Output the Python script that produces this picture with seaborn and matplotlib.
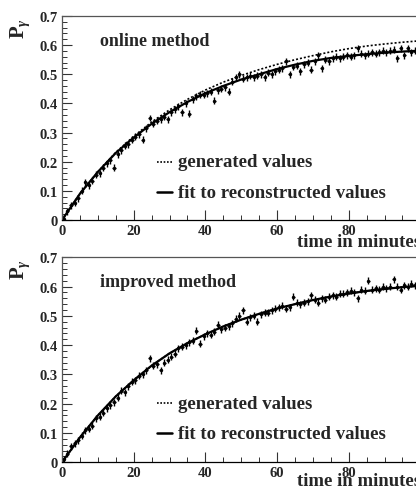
import numpy as np
import pandas as pd
import matplotlib
matplotlib.use("Agg")
import matplotlib.pyplot as plt
import seaborn as sns
from matplotlib.ticker import MultipleLocator

sns.set_theme(style="white")
plt.rcParams['font.family'] = ['Liberation Serif', 'DejaVu Serif']
plt.rcParams['mathtext.fontset'] = 'custom'
plt.rcParams['mathtext.rm'] = 'Liberation Serif'
plt.rcParams['mathtext.bf'] = 'Liberation Serif:bold'
plt.rcParams['mathtext.it'] = 'Liberation Serif:italic:bold'

# ---------------- data ----------------
time_points = [0.5 + i for i in range(99)]

online_values = [
    0.005, 0.03, 0.05, 0.06, 0.075, 0.10, 0.13, 0.12, 0.135, 0.155,
    0.16, 0.18, 0.195, 0.205, 0.18, 0.225, 0.24, 0.255, 0.26, 0.275,
    0.285, 0.295, 0.275, 0.315, 0.35, 0.33, 0.34, 0.345, 0.355, 0.345,
    0.37, 0.38, 0.39, 0.37, 0.40, 0.365, 0.415, 0.425, 0.43, 0.43,
    0.435, 0.44, 0.41, 0.445, 0.45, 0.455, 0.44, 0.475, 0.49, 0.50,
    0.485, 0.49, 0.495, 0.49, 0.495, 0.50, 0.49, 0.505, 0.50, 0.51,
    0.515, 0.52, 0.545, 0.50, 0.525, 0.53, 0.51, 0.535, 0.54, 0.515,
    0.545, 0.565, 0.52, 0.55, 0.545, 0.555, 0.56, 0.555, 0.56, 0.565,
    0.56, 0.565, 0.59, 0.57, 0.565, 0.57, 0.575, 0.57, 0.575, 0.58,
    0.575, 0.58, 0.585, 0.555, 0.59, 0.565, 0.59, 0.575, 0.58,
]

improved_values = [
    0.01, 0.03, 0.055, 0.065, 0.075, 0.09, 0.11, 0.115, 0.125, 0.15,
    0.155, 0.17, 0.185, 0.195, 0.205, 0.22, 0.245, 0.24, 0.26, 0.275,
    0.28, 0.295, 0.30, 0.315, 0.355, 0.33, 0.335, 0.315, 0.34, 0.35,
    0.36, 0.37, 0.39, 0.395, 0.40, 0.41, 0.415, 0.45, 0.405, 0.43,
    0.44, 0.435, 0.445, 0.47, 0.455, 0.46, 0.465, 0.475, 0.49, 0.50,
    0.52, 0.48, 0.495, 0.50, 0.48, 0.505, 0.51, 0.51, 0.52, 0.525,
    0.53, 0.535, 0.525, 0.53, 0.565, 0.545, 0.54, 0.545, 0.55, 0.57,
    0.555, 0.545, 0.56, 0.555, 0.565, 0.57, 0.565, 0.575, 0.575, 0.58,
    0.585, 0.58, 0.56, 0.59, 0.585, 0.62, 0.59, 0.595, 0.59, 0.60,
    0.595, 0.60, 0.625, 0.60, 0.59, 0.605, 0.60, 0.61, 0.605,
]

curve_t = [0, 5, 10, 15, 20, 25, 30, 35, 40, 45, 50,
           55, 60, 65, 70, 75, 80, 85, 90, 95, 100]
online_generated = [0.0, 0.09, 0.165, 0.232, 0.287, 0.336, 0.378, 0.414, 0.446, 0.473, 0.496,
                    0.516, 0.534, 0.55, 0.564, 0.577, 0.588, 0.597, 0.604, 0.61, 0.615]
online_fit = [0.0, 0.09, 0.165, 0.23, 0.283, 0.33, 0.37, 0.405, 0.435, 0.46, 0.482,
              0.50, 0.518, 0.533, 0.546, 0.556, 0.563, 0.569, 0.574, 0.578, 0.581]
improved_generated = [0.0, 0.085, 0.16, 0.225, 0.28, 0.33, 0.372, 0.407, 0.437, 0.464, 0.487,
                      0.507, 0.525, 0.54, 0.554, 0.566, 0.576, 0.585, 0.592, 0.598, 0.603]
improved_fit = [0.0, 0.085, 0.16, 0.225, 0.28, 0.33, 0.372, 0.407, 0.437, 0.464, 0.487,
                0.507, 0.525, 0.54, 0.554, 0.566, 0.576, 0.585, 0.592, 0.598, 0.603]

y_error = 0.012
x_error = 0.45

panel_titles = ["online method", "improved method"]
legend_labels = ["generated values", "fit to reconstructed values"]
x_label = "time in minutes"
y_ticks = [0, 0.1, 0.2, 0.3, 0.4, 0.5, 0.6, 0.7]
y_tick_labels = ["0", "0.1", "0.2", "0.3", "0.4", "0.5", "0.6", "0.7"]
x_ticks = [0, 20, 40, 60, 80]

# ---------------- figure ----------------
W, H = 416, 489
fig = plt.figure(figsize=(W / 100, H / 100), dpi=100)
fig.patch.set_facecolor("white")

panels = [
    dict(top=17, bottom=221, vals=online_values, gen=online_generated, fit=online_fit,
         xlab_base=247.5),
    dict(top=258.3, bottom=463.3, vals=improved_values, gen=improved_generated, fit=improved_fit,
         xlab_base=486.5),
]

left_px = 62
for i, p in enumerate(panels):
    ax = fig.add_axes([left_px / W, 1 - p["bottom"] / H, 1 - left_px / W + 0.002,
                       (p["bottom"] - p["top"]) / H])
    df = pd.DataFrame({"t": time_points, "P": p["vals"]})
    cdf = pd.DataFrame({"t": curve_t, "gen": p["gen"], "fit": p["fit"]})

    ax.errorbar(df["t"], df["P"], yerr=y_error, xerr=x_error, fmt="none",
                ecolor="black", elinewidth=1.0, capsize=0)
    sns.scatterplot(data=df, x="t", y="P", ax=ax, color="black", s=6,
                    marker="o", edgecolor="black", linewidth=0, legend=False, zorder=3)
    sns.lineplot(data=cdf, x="t", y="gen", ax=ax, color="black", lw=1.2,
                 linestyle=(0, (1.2, 1.2)), legend=False)
    sns.lineplot(data=cdf, x="t", y="fit", ax=ax, color="black", lw=1.6, legend=False)

    ax.set_xlim(0, 99)
    ax.set_ylim(0, 0.7)
    ax.set_xlabel("")
    ax.set_ylabel("")
    ax.set_facecolor("white")
    ax.spines["right"].set_visible(False)
    for s in ["top", "left", "bottom"]:
        ax.spines[s].set_color("#555555")
        ax.spines[s].set_linewidth(0.9)
    ax.spines["bottom"].set_color("black")

    ax.set_yticks(y_ticks)
    ax.set_yticklabels(y_tick_labels)
    ax.set_xticks(x_ticks)
    ax.xaxis.set_minor_locator(MultipleLocator(5))
    ax.yaxis.set_minor_locator(MultipleLocator(0.02))
    ax.tick_params(axis="both", which="major", direction="in", length=7, width=0.8,
                   color="#333333", labelsize=10.5, pad=3,
                   bottom=True, left=True, top=False, right=False)
    ax.tick_params(axis="both", which="minor", direction="in", length=3.5, width=0.7,
                   color="#333333", bottom=True, left=True, top=False, right=False)
    for lab in ax.get_xticklabels() + ax.get_yticklabels():
        lab.set_fontweight("bold")

    # panel title
    off = p["top"] - 17
    fig.text(100 / W, 1 - (41.7 + off) / H, panel_titles[i], fontsize=13,
             fontweight="bold", ha="left", va="center")
    # legend entries
    y_gen = 163 + off
    y_fit = 193 + off
    fig.add_artist(plt.Line2D([157 / W, 172 / W], [1 - y_gen / H] * 2, color="black",
                              lw=1.2, linestyle=(0, (1, 1))))
    fig.add_artist(plt.Line2D([157 / W, 172 / W], [1 - y_fit / H] * 2, color="black",
                              lw=1.8))
    fig.text(178 / W, 1 - y_gen / H, legend_labels[0], fontsize=13.5,
             fontweight="bold", ha="left", va="center")
    fig.text(178 / W, 1 - y_fit / H, legend_labels[1], fontsize=13.5,
             fontweight="bold", ha="left", va="center")
    # x label
    fig.text(297 / W, 1 - p["xlab_base"] / H, x_label, fontsize=13.5,
             fontweight="bold", ha="left", va="baseline")
    # y label
    fig.text(20 / W, 1 - (28 + off) / H, r"$\mathbf{P}_{\gamma}$", fontsize=15,
             rotation=90, ha="center", va="center")

fig.savefig("out.png", dpi=100, facecolor="white")
